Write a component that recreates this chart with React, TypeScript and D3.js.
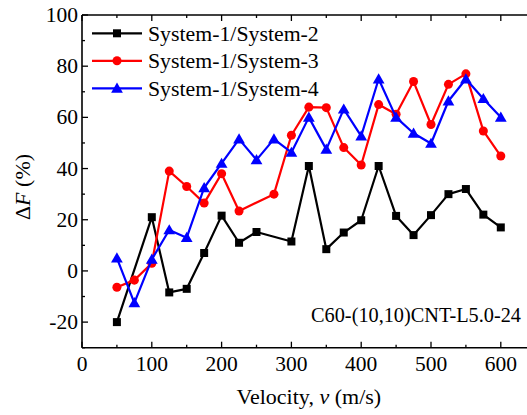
import React from 'react'
import * as d3 from 'd3'

// velocity (m/s) and ΔF (%); null = no point there
const velocity = [50, 75, 100, 125, 150, 175, 200, 225, 250, 275, 300, 325, 350, 375, 400, 425, 450, 475, 500, 525, 550, 575, 600]
const sys2 = [-20, null, 21, -8.4, -7, 7, 21.6, 11, 15.2, null, 11.5, 41, 8.5, 15, 19.8, 41, 21.5, 14, 21.8, 30, 32, 22, 17]
const sys3 = [-6.4, -3.6, 3, 39, 33, 26.5, 38, 23.4, null, 30, 53, 64, 63.8, 48.2, 41.4, 65, 61.2, 74, 57.2, 72.9, 77, 54.7, 44.9]
const sys4 = [5, -12.5, 4.5, 16, 13, 32.5, 42, 51.5, 43.4, 51.5, 46.3, 60, 47.5, 63.2, 52.7, 75, 60, 53.8, 49.8, 66.4, 75, 67.3, 60]

const seriesNames = ['System-1/System-2', 'System-1/System-3', 'System-1/System-4']
const xTicks = [0, 100, 200, 300, 400, 500, 600]
const xMinor = [50, 150, 250, 350, 450, 550, 650]
const yTicks = [-20, 0, 20, 40, 60, 80, 100]
const yMinor = [-30, -10, 10, 30, 50, 70, 90]

const FONT = 'Liberation Serif'

const left = 82, top = 15, bottom = 347.7
const x = d3.scaleLinear().domain([0, 650]).range([left, left + 650 * 0.698])
const y = d3.scaleLinear().domain([-30, 100]).range([bottom, top])

const colors = ['#000000', '#ff0000', '#0000ff']
const symbols = [d3.symbolSquare, d3.symbolCircle, d3.symbolTriangle]
const sizes = [64, 64, 60]
const all = [sys2, sys3, sys4]
const line = d3.line<[number, number]>().x(d => x(d[0])).y(d => y(d[1]))

const App = () => {
  const right = x(650)
  return (
    <svg width={527} height={415} style={{ position: 'absolute', left: 0, top: 0, background: '#fff', fontFamily: FONT }}>
      {/* frame */}
      <line x1={left} x2={right} y1={bottom} y2={bottom} stroke="#000" strokeWidth={1.6} />
      <line x1={left} x2={right} y1={top} y2={top} stroke="#000" strokeWidth={1.6} />
      <line x1={left} x2={left} y1={top} y2={bottom} stroke="#000" strokeWidth={1.6} />
      {xTicks.map(t => (
        <g key={'x' + t}>
          <line x1={x(t)} x2={x(t)} y1={bottom} y2={bottom - 6} stroke="#000" strokeWidth={1.3} />
          <line x1={x(t)} x2={x(t)} y1={top} y2={top + 6} stroke="#000" strokeWidth={1.3} />
          <text x={x(t)} y={371} textAnchor="middle" fontSize={21.5} style={{ fontFamily: FONT }}>{t}</text>
        </g>
      ))}
      {xMinor.map(t => (
        <g key={'xm' + t}>
          <line x1={x(t)} x2={x(t)} y1={bottom} y2={bottom - 3} stroke="#000" strokeWidth={1.3} />
          <line x1={x(t)} x2={x(t)} y1={top} y2={top + 3} stroke="#000" strokeWidth={1.3} />
        </g>
      ))}
      {yTicks.map(t => (
        <g key={'y' + t}>
          <line x1={left} x2={left + 6} y1={y(t)} y2={y(t)} stroke="#000" strokeWidth={1.3} />
          <text x={left - 4} y={y(t) + 7} textAnchor="end" fontSize={21.5} style={{ fontFamily: FONT }}>{t}</text>
        </g>
      ))}
      {yMinor.map(t => (
        <line key={'ym' + t} x1={left} x2={left + 3} y1={y(t)} y2={y(t)} stroke="#000" strokeWidth={1.3} />
      ))}

      {all.map((vals, i) => {
        const pts = velocity.map((v, j) => [v, vals[j]] as [number, any]).filter(p => p[1] != null) as [number, number][]
        const sym = d3.symbol().type(symbols[i]).size(sizes[i])() as string
        return (
          <g key={'s' + i}>
            <path d={line(pts) as string} fill="none" stroke={colors[i]} strokeWidth={2.2} strokeLinejoin="round" />
            {pts.map((p, k) => (
              <path key={k} d={sym} fill={colors[i]} transform={`translate(${x(p[0])},${y(p[1]) + (i === 2 ? 1 : 0)})`} />
            ))}
          </g>
        )
      })}

      {seriesNames.map((name, i) => {
        const ly = 33.3 + i * 27.5
        const sym = d3.symbol().type(symbols[i]).size(sizes[i])() as string
        return (
          <g key={'l' + i}>
            <line x1={92} x2={142} y1={ly} y2={ly} stroke={colors[i]} strokeWidth={2.2} />
            <path d={sym} fill={colors[i]} transform={`translate(117,${ly + (i === 2 ? 1 : 0)})`} />
            <text x={148} y={ly + 7.5} fontSize={21.8} style={{ fontFamily: FONT }}>{name}</text>
          </g>
        )
      })}

      <text x={521} y={322} textAnchor="end" fontSize={20.3} style={{ fontFamily: FONT }}>C60-(10,10)CNT-L5.0-24</text>

      <text x={(left + right) / 2} y={404} textAnchor="middle" fontSize={22} style={{ fontFamily: FONT }}>
        Velocity, <tspan fontStyle="italic">v</tspan> (m/s)
      </text>
      <text transform="translate(30,187) rotate(-90)" textAnchor="middle" fontSize={22} style={{ fontFamily: FONT }}>
        Δ<tspan fontStyle="italic">F</tspan> (%)
      </text>
    </svg>
  )
}

export default App
